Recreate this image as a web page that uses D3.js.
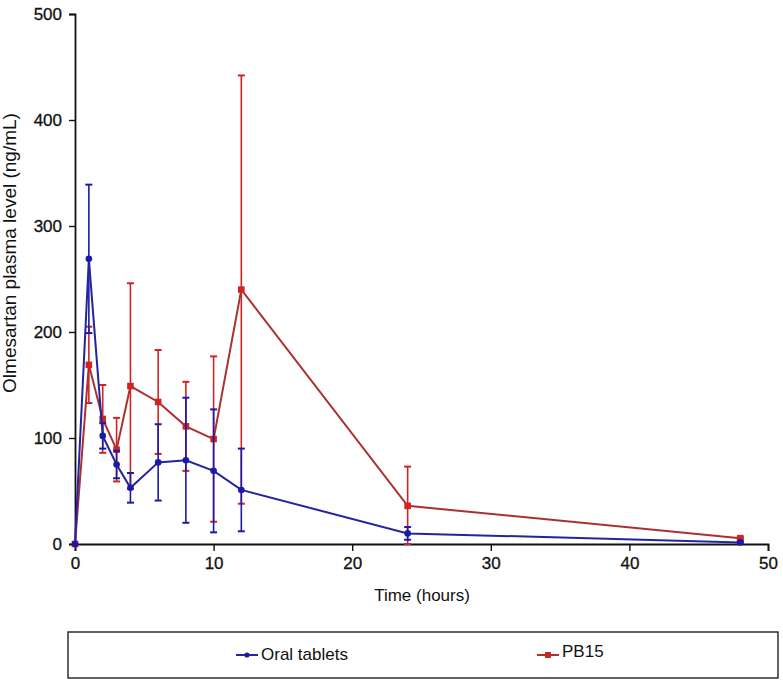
<!DOCTYPE html>
<html>
<head>
<meta charset="utf-8">
<script src="https://cdn.jsdelivr.net/npm/d3@7"></script>
<style>
html,body{margin:0;padding:0;background:#fff;}
svg{display:block;}
text{font-family:"Liberation Sans",Arial,sans-serif;}
</style>
</head>
<body>
<svg id="chart" width="783" height="683"></svg>
<script>
const times = [0, 1, 2, 3, 4, 6, 8, 10, 12, 24, 48];
const oralMean = [0, 269, 102, 75, 53, 77, 79, 69, 51, 10, 1.5];
const oralSD   = [0, 70, 12, 13, 14, 36, 59, 58, 39, 6, 1];
const pbMean   = [0, 169, 118, 89, 149, 134, 111, 99, 240, 36, 5.5];
const pbSD     = [0, 36, 32, 30, 97, 49, 42, 78, 202, 37, 1];
const xTicks = [0, 10, 20, 30, 40, 50];
const yTicks = [0, 100, 200, 300, 400, 500];
const seriesNames = ["Oral tablets", "PB15"];

const blue = "#1a1aa8", blueLine = "#2424a0";
const red = "#d02424", redLine = "#ac3030";

const svg = d3.select("#chart");
const m = {left: 75, right: 15, top: 14, bottom: 139};
const W = 783, H = 683;
const x = d3.scaleLinear().domain([0, 50]).range([m.left, W - m.right]);
const y = d3.scaleLinear().domain([0, 500]).range([H - m.bottom, m.top]);

const series = [
  {name: seriesNames[0], mean: oralMean, sd: oralSD, color: blue, line: blueLine, shape: "circle"},
  {name: seriesNames[1], mean: pbMean, sd: pbSD, color: red, line: redLine, shape: "square"}
];

// axes
const xAxis = svg.append("g").attr("transform", `translate(0,${y(0)})`)
  .call(d3.axisBottom(x).tickValues(xTicks).tickSize(7).tickPadding(6));
const yAxis = svg.append("g").attr("transform", `translate(${x(0)},0)`)
  .call(d3.axisLeft(y).tickValues(yTicks).tickSize(6).tickPadding(7));
[xAxis, yAxis].forEach(a => {
  a.select(".domain").attr("stroke", "#111").attr("stroke-width", 1.8);
  a.selectAll(".tick line").attr("stroke", "#111").attr("stroke-width", 1.4);
  a.selectAll(".tick text").attr("fill", "#111").style("font-size", "17px")
    .attr("stroke", "#111").attr("stroke-width", 0.3)
    .style("font-family", "'Liberation Sans', Arial, sans-serif");
});

// axis titles
svg.append("text").attr("x", 422).attr("y", 601).attr("text-anchor", "middle")
  .style("font-size", "17px").attr("fill", "#111").text("Time (hours)");
svg.append("text").attr("transform", `translate(16,253) rotate(-90)`)
  .attr("text-anchor", "middle").style("font-size", "19px").attr("fill", "#111")
  .text("Olmesartan plasma level (ng/mL)");

// series (PB15 first so oral tablets is drawn on top)
[series[1], series[0]].forEach(s => {
  const pts = times.map((t, i) => ({t, m: s.mean[i], sd: s.sd[i]}));
  const g = svg.append("g");
  pts.filter(p => p.sd > 0).forEach(p => {
    const lo = Math.max(0, p.m - p.sd), hi = p.m + p.sd;
    g.append("line").attr("x1", x(p.t)).attr("x2", x(p.t))
      .attr("y1", y(lo)).attr("y2", y(hi)).attr("stroke", s.color).attr("stroke-width", 1.6);
    [lo, hi].forEach(v => {
      g.append("line").attr("x1", x(p.t) - 3.5).attr("x2", x(p.t) + 3.5)
        .attr("y1", y(v)).attr("y2", y(v)).attr("stroke", s.color).attr("stroke-width", 2);
    });
  });
  g.append("path").datum(pts)
    .attr("d", d3.line().x(p => x(p.t)).y(p => y(p.m)))
    .attr("fill", "none").attr("stroke", s.line).attr("stroke-width", 2);
  pts.forEach(p => {
    if (s.shape === "circle") {
      g.append("circle").attr("cx", x(p.t)).attr("cy", y(p.m)).attr("r", 3.3).attr("fill", s.color);
    } else {
      g.append("rect").attr("x", x(p.t) - 3.3).attr("y", y(p.m) - 3.3)
        .attr("width", 6.6).attr("height", 6.6).attr("fill", s.color);
    }
  });
});

// legend
svg.append("rect").attr("x", 68).attr("y", 632).attr("width", 710).attr("height", 46)
  .attr("fill", "none").attr("stroke", "#222").attr("stroke-width", 1.4);
const legendPos = [{lx: 236, ly: 655, ty: 660}, {lx: 537, ly: 655, ty: 657}];
series.forEach((s, i) => {
  const p = legendPos[i];
  svg.append("line").attr("x1", p.lx).attr("x2", p.lx + 22).attr("y1", p.ly).attr("y2", p.ly)
    .attr("stroke", s.line).attr("stroke-width", 2);
  if (s.shape === "circle") {
    svg.append("circle").attr("cx", p.lx + 11).attr("cy", p.ly).attr("r", 2.6).attr("fill", s.color);
  } else {
    svg.append("rect").attr("x", p.lx + 8).attr("y", p.ly - 3).attr("width", 6).attr("height", 6).attr("fill", s.color);
  }
  svg.append("text").attr("x", p.lx + 25).attr("y", p.ty).style("font-size", "17px")
    .attr("fill", "#111").text(s.name);
});
</script>
</body>
</html>
